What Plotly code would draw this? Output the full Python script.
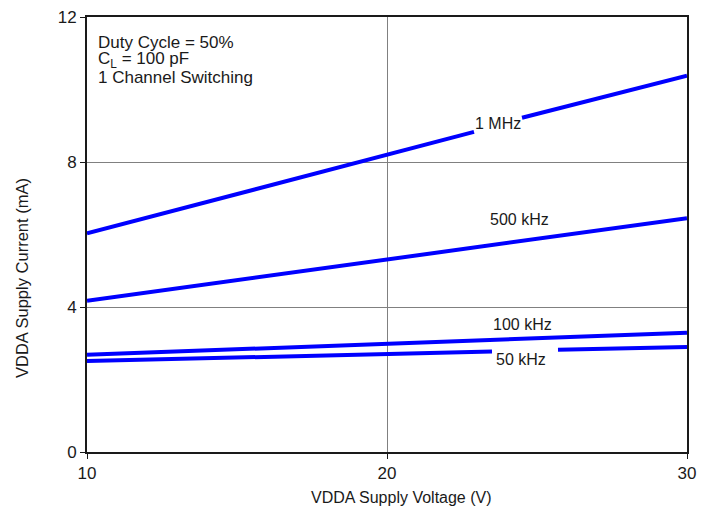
import plotly.graph_objects as go

# Data (VDDA supply voltage V, supply current mA)
# None marks gaps where the curve labels sit
x_1mhz = [10, 22.9, None, 24.5, 30]
y_1mhz = [6.03, 8.83, None, 9.22, 10.38]

x_500khz = [10, 30]
y_500khz = [4.17, 6.45]

x_100khz = [10, 30]
y_100khz = [2.68, 3.29]

x_50khz = [10, 23.5, None, 25.7, 30]
y_50khz = [2.51, 2.77, None, 2.82, 2.90]

x_ticks = [10, 20, 30]
y_ticks = [0, 4, 8, 12]

curve_labels = ["1 MHz", "500 kHz", "100 kHz", "50 kHz"]
label_x = [23.7, 24.4, 24.5, 24.45]
label_y = [9.07, 6.42, 3.53, 2.56]

note_lines = ["Duty Cycle = 50%", "C<sub>L</sub> = 100 pF", "1 Channel Switching"]

FONT = "Liberation Sans, Arial, sans-serif"
BLUE = "#0000FF"
TXT = "#1a1a1a"

fig = go.Figure()
for xs, ys in [(x_1mhz, y_1mhz), (x_500khz, y_500khz), (x_100khz, y_100khz), (x_50khz, y_50khz)]:
    fig.add_trace(go.Scatter(x=xs, y=ys, mode="lines",
                             line=dict(color=BLUE, width=4),
                             connectgaps=False, showlegend=False, hoverinfo="skip"))

for text, lx, ly in zip(curve_labels, label_x, label_y):
    fig.add_annotation(x=lx, y=ly, text=text, showarrow=False,
                       font=dict(family=FONT, size=16, color=TXT))

# note block: pixel offsets relative to plot area top-left
for i, line in enumerate(note_lines):
    fig.add_annotation(xref="paper", yref="paper", x=0.015, y=1 - (26 + 17 * i) / 435,
                       xanchor="left", yanchor="middle", align="left", showarrow=False,
                       text=line, font=dict(family=FONT, size=17, color=TXT))

# axis titles
fig.add_annotation(xref="paper", yref="paper", x=(401 - 87) / 600, y=-(497 - 452) / 435,
                   xanchor="center", yanchor="middle", showarrow=False,
                   text="VDDA Supply Voltage (V)", font=dict(family=FONT, size=16, color=TXT))
fig.add_annotation(xref="paper", yref="paper", x=-(87 - 22) / 600, y=(452 - 278) / 435,
                   xanchor="center", yanchor="middle", showarrow=False, textangle=-90,
                   text="VDDA Supply Current (mA)", font=dict(family=FONT, size=16.5, color=TXT))

fig.update_layout(
    width=712, height=513,
    margin=dict(l=79, r=33, t=9, b=69, autoexpand=False),
    paper_bgcolor="white", plot_bgcolor="white",
    font=dict(family=FONT, size=16, color=TXT),
)
common = dict(ticks="outside", ticklen=5, tickcolor=TXT, showgrid=True,
              gridcolor="#808080", gridwidth=1, showline=True, linecolor=TXT,
              linewidth=2, mirror=True, zeroline=False, automargin=False,
              ticklabeloverflow="allow",
              tickfont=dict(family=FONT, size=17, color=TXT))
fig.update_xaxes(range=[10, 30], tickvals=x_ticks, **common)
fig.update_yaxes(range=[0, 12], tickvals=y_ticks, **common)

fig.write_html("out.html")
